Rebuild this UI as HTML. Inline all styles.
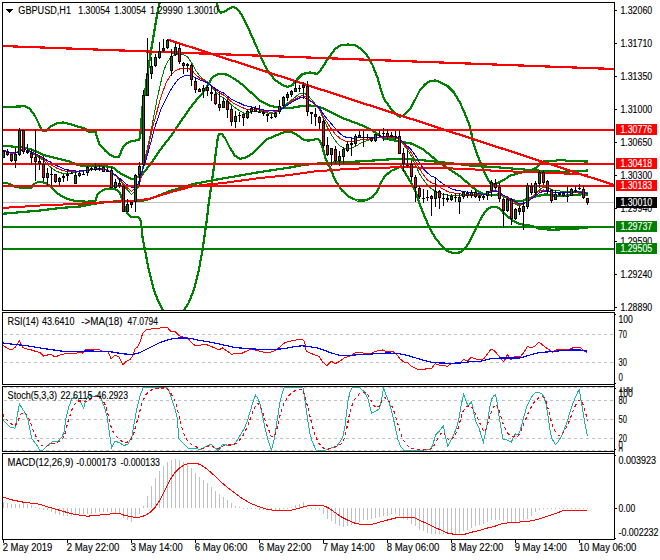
<!DOCTYPE html><html><head><meta charset="utf-8"><title>GBPUSD,H1</title>
<style>html,body{margin:0;padding:0;background:#fff;overflow:hidden}svg{display:block}text{font-family:"Liberation Sans", sans-serif;white-space:pre}</style></head><body>
<svg width="660" height="560" viewBox="0 0 660 560">
<rect width="660" height="560" fill="#fff"/>
<defs><clipPath id="cm"><rect x="3" y="3" width="611" height="307"/></clipPath>
<clipPath id="c1"><rect x="3" y="313" width="611" height="71"/></clipPath>
<clipPath id="c2"><rect x="3" y="387" width="611" height="64"/></clipPath>
<clipPath id="c3"><rect x="3" y="454" width="611" height="85"/></clipPath></defs>
<g clip-path="url(#cm)" shape-rendering="crispEdges">
<line x1="3" y1="202.5" x2="614" y2="202.5" stroke="#c0c0c0" stroke-width="1" />
<rect x="3" y="226" width="611" height="2" fill="#008000" />
<rect x="3" y="248" width="611" height="2" fill="#008000" />
<polyline points="2.0,107.0 20.0,106.5 25.0,106.0 30.0,109.0 35.0,116.0 39.0,124.0 41.3,129.0 43.0,131.0 46.0,131.0 48.0,129.0 52.0,125.5 57.0,123.3 63.0,122.5 70.0,124.0 80.0,127.2 85.8,128.8 87.3,131.4 95.6,131.8 97.1,137.4 99.4,144.2 105.5,151.0 110.0,154.8 114.5,156.8 119.0,156.8 120.6,153.3 122.9,147.3 126.7,143.5 131.2,141.2 138.8,140.0 140.3,137.4 140.5,131.4 141.0,123.8 141.8,116.2 142.8,103.0 144.8,94.5 146.7,78.8 149.7,59.0 151.7,47.0 154.6,29.5 157.6,11.8 159.5,3.0" fill="none" stroke="#008000" stroke-width="2.2" stroke-linejoin="round"/>
<polyline points="216.7,3.0 218.6,9.8 220.6,12.8 224.5,11.8 228.5,8.9 233.4,6.9 237.3,8.9 242.3,15.8 247.2,25.6 252.0,36.4 257.5,49.0 261.0,57.5 265.0,66.0 269.0,72.5 275.0,80.0 282.5,85.0 287.5,87.0 292.5,85.0 297.5,79.0 302.5,74.0 310.0,72.5 317.5,74.0 322.5,67.5 327.5,59.0 330.0,56.0 335.0,49.0 340.0,45.5 347.5,44.5 355.0,45.0 361.0,49.0 367.5,56.0 372.5,65.0 377.5,77.5 381.0,90.0 384.0,99.0 390.0,107.5 396.0,114.5 400.0,117.0 405.0,114.5 410.0,109.0 415.0,100.0 420.0,90.0 425.0,84.5 430.0,81.0 435.0,80.5 440.0,82.0 447.5,86.0 454.0,92.5 460.0,102.5 465.0,114.0 469.0,124.0 471.0,131.0 472.5,140.0 476.7,153.3 480.8,163.3 485.0,173.3 488.3,180.0 491.7,185.0 495.0,184.2 500.0,181.7 505.0,179.2 510.0,175.8 515.0,174.2 521.7,172.5 528.3,170.8 534.0,169.2 537.5,166.7 540.0,163.3 543.0,161.7 548.0,160.8 555.0,160.8 561.0,159.7 566.7,160.8 580.0,161.3 588.0,161.5" fill="none" stroke="#008000" stroke-width="2.2" stroke-linejoin="round"/>
<polyline points="3.3,145.8 10.0,146.3 16.7,147.0 23.0,147.5 30.0,149.0 36.7,151.7 43.0,155.0 50.0,156.7 56.7,158.3 63.0,160.0 70.0,161.7 73.0,163.0 78.0,165.3 90.0,166.0 105.0,166.3 112.0,167.0 115.0,169.0 119.0,172.5 126.7,176.7 131.0,179.0 135.0,178.5 141.7,175.0 150.0,165.0 160.0,150.0 171.7,135.0 175.0,130.0 190.0,108.0 195.0,101.7 203.0,92.5 206.0,88.0 212.7,76.8 218.6,73.9 226.5,74.5 234.4,78.8 242.3,84.7 250.0,91.6 255.0,96.0 260.0,100.8 268.0,105.0 275.0,107.0 280.0,107.5 285.0,108.0 291.7,108.0 297.0,106.7 303.0,106.0 310.0,105.5 316.7,106.3 323.0,108.3 330.0,111.7 336.7,115.0 343.0,118.3 350.0,120.8 356.7,123.3 363.0,125.8 368.0,128.0 372.0,130.0 376.0,133.0 380.0,136.0 384.0,138.5 390.0,139.5 396.7,141.0 402.5,142.0 412.5,143.8 422.5,148.8 430.0,155.0 437.5,161.2 445.0,166.2 452.5,171.2 460.0,176.2 470.0,185.0 473.0,187.5 476.7,190.8 481.7,193.3 488.3,194.7 495.0,195.0 500.0,194.2 503.0,195.8 508.0,198.3 513.0,200.3 518.0,201.3 523.0,200.8 528.0,198.5 533.8,197.0 538.0,196.0 542.0,195.0 545.5,194.4 548.6,195.0 552.0,195.5 562.4,196.0 573.0,195.0 583.6,194.2 588.0,195.5" fill="none" stroke="#008000" stroke-width="2.2" stroke-linejoin="round"/>
<polyline points="3.3,183.3 7.5,183.3 11.0,184.7 16.0,187.0 23.0,188.0 31.0,188.0 32.5,186.7 34.0,184.0 38.0,182.0 42.5,182.0 46.7,183.7 50.0,185.8 53.0,189.0 57.5,193.3 63.0,197.0 70.0,199.7 75.0,200.8 80.0,201.3 87.0,201.7 92.5,201.3 95.5,200.6 96.8,196.2 98.6,193.0 101.8,191.0 105.5,189.0 110.5,188.5 115.5,189.4 119.2,191.9 121.0,195.6 122.5,201.7 126.7,212.5 131.0,216.7 139.0,217.5 141.0,221.7 142.5,237.5 145.0,250.0 148.8,270.0 153.8,290.0 158.8,302.5 163.0,310.0" fill="none" stroke="#008000" stroke-width="2.2" stroke-linejoin="round"/>
<polyline points="184.2,310.0 188.8,302.5 193.8,290.0 198.8,270.0 202.5,250.0 205.0,232.5 206.8,220.0 208.3,206.7 211.7,183.0 214.0,166.7 215.8,153.0 217.5,140.0 219.0,133.7 221.7,134.0 225.0,138.0 230.0,148.0 235.0,155.8 240.0,158.7 245.0,158.0 251.7,154.0 256.7,149.0 263.0,143.0 267.5,139.0 273.0,136.7 280.0,133.8 285.0,131.9 291.9,131.9 296.2,134.4 300.6,137.5 303.8,140.0 308.8,140.6 313.8,139.8 317.5,138.8 320.0,141.2 321.9,144.8 325.0,156.7 328.0,165.0 330.0,167.5 335.0,180.0 342.5,191.0 350.0,197.5 357.5,200.5 365.0,200.5 372.5,197.0 377.5,191.0 381.0,182.5 385.0,176.0 391.0,171.0 397.5,168.0 401.0,166.0 405.0,172.5 410.0,181.0 415.0,190.0 420.0,205.0 425.0,217.5 430.0,228.8 435.0,237.5 441.0,245.0 447.5,251.0 452.5,253.0 460.0,252.5 466.0,247.5 471.0,238.8 476.0,228.5 480.0,220.0 483.8,213.8 487.0,209.5 491.7,206.7 496.7,207.0 500.0,209.0 503.0,212.5 508.0,216.7 513.0,220.8 518.0,223.3 525.0,225.0 531.7,225.8 536.7,227.5 540.0,229.0 553.0,229.7 570.0,229.0 580.0,228.3 588.0,228.0" fill="none" stroke="#008000" stroke-width="2.2" stroke-linejoin="round"/>
<polyline points="2.0,213.8 40.0,210.5 60.0,208.0 80.0,206.5 90.0,204.5 100.0,202.8 110.0,201.7 143.0,200.8 151.7,198.3 160.0,195.0 168.0,191.7 176.7,189.0 185.0,186.7 193.0,184.0 201.7,182.5 210.0,180.8 220.0,179.0 240.0,175.5 260.0,172.0 280.0,169.0 290.0,167.5 303.0,165.0 320.0,163.3 345.0,162.0 363.0,161.3 380.0,160.0 400.0,158.7 420.0,160.0 440.0,162.0 470.0,165.5 500.0,167.5 530.0,170.0 550.0,171.3 563.0,171.7 580.0,171.0 588.0,170.5" fill="none" stroke="#008000" stroke-width="2.2" stroke-linejoin="round"/>
<polyline points="2.0,208.0 40.0,205.5 80.0,203.8 110.0,201.8 135.0,200.8 143.0,199.7 150.0,198.5 160.0,195.5 176.7,190.5 193.0,186.3 210.0,184.2 223.0,183.0 260.0,178.0 290.0,175.0 306.7,172.5 315.0,171.4 327.5,170.5 340.0,169.5 352.5,168.9 365.0,168.2 377.5,167.9 390.0,167.5 410.0,167.4 430.0,167.7 450.0,168.4 472.0,169.3 495.0,170.8 520.0,171.8 545.0,172.7 576.0,174.0 588.0,175.0" fill="none" stroke="#ff0000" stroke-width="2.0" stroke-linejoin="round"/>
<polyline points="3.5,151.0 11.5,153.5 15.5,153.5 23.5,148.5 30.0,152.0 38.0,157.0 43.8,160.6 47.5,164.4 51.5,168.0 55.5,170.6 59.5,172.5 63.5,173.5 67.5,173.5 71.5,173.0 80.0,171.5 90.0,170.0 100.0,168.0 108.0,170.5 115.5,175.6 120.5,181.2 125.5,188.0 129.2,191.9 131.5,194.4 134.2,191.9 138.0,187.5 140.5,180.0 142.8,167.0 146.6,151.8 150.3,135.0 154.0,115.3 156.9,99.8 159.4,88.8 161.9,77.5 164.4,68.8 167.5,61.9 171.2,56.9 175.5,54.4 179.5,53.8 183.5,54.8 187.5,56.9 191.5,62.5 195.5,70.0 199.5,75.6 203.5,79.4 207.5,81.9 211.5,86.9 215.5,91.9 219.5,95.6 223.5,98.0 227.5,101.2 231.5,105.0 235.5,108.0 239.5,110.6 243.5,113.0 247.5,113.0 251.5,111.9 255.5,111.2 259.5,111.2 263.5,112.2 267.5,113.0 271.5,113.8 275.5,112.5 279.5,111.0 283.5,107.5 287.5,103.0 291.5,100.0 295.5,96.9 299.5,93.8 303.5,93.0 307.5,95.0 311.5,99.4 315.5,104.4 319.5,110.0 323.5,118.8 327.5,127.5 331.5,135.0 335.5,141.0 339.5,145.5 343.8,148.2 347.5,148.9 351.5,148.2 355.5,146.4 359.5,143.9 363.5,142.0 367.5,140.5 371.5,139.2 375.5,138.2 379.5,137.6 383.5,137.6 387.5,138.2 391.5,138.5 395.5,138.3 399.5,138.8 403.5,144.4 407.5,150.0 411.5,156.2 415.5,165.0 419.5,173.8 423.5,180.0 427.5,185.0 431.5,188.8 435.5,191.2 439.5,193.5 443.8,194.4 448.8,195.2 460.0,196.0 480.0,195.5 487.5,193.5 491.5,190.5 495.5,190.0 499.5,192.5 503.5,197.0 507.5,198.5 511.5,202.0 515.5,204.5 519.5,205.5 523.5,204.0 527.4,201.8 531.7,198.6 535.9,193.3 539.0,190.0 542.3,188.0 545.5,187.5 548.6,188.2 551.8,189.6 556.0,190.7 562.4,191.2 570.0,191.5 577.0,191.0 588.0,193.0" fill="none" stroke="#008000" stroke-width="1" />
<polyline points="3.5,150.5 11.5,153.0 15.5,153.0 23.5,149.0 30.0,151.5 38.0,156.0 43.8,159.4 47.5,162.5 51.5,165.0 55.5,167.5 59.5,169.4 63.5,170.6 67.5,171.5 71.5,171.9 75.5,171.9 85.0,170.5 95.0,169.0 103.0,168.5 109.0,171.0 115.5,175.0 120.5,180.0 125.5,186.2 129.2,189.4 131.5,191.2 134.2,188.8 138.0,185.0 140.5,180.0 144.3,164.0 148.0,148.7 152.6,127.5 157.2,110.8 160.0,99.8 163.0,91.2 166.2,82.5 170.0,76.2 175.5,70.6 179.5,69.0 183.5,68.5 187.5,68.0 191.5,70.0 195.5,74.4 199.5,78.0 203.5,80.0 207.5,82.5 211.5,86.2 215.5,90.0 219.5,93.0 223.5,95.0 227.5,98.0 231.5,101.9 235.5,104.4 239.5,106.2 243.5,108.0 247.5,109.4 251.5,109.4 255.5,109.8 259.5,110.0 263.5,111.0 267.5,111.9 271.5,112.2 275.5,111.6 279.5,111.0 283.5,108.0 287.5,104.4 291.5,101.2 295.5,98.8 299.5,96.2 303.5,95.6 307.5,97.5 311.5,101.2 315.5,105.0 319.5,109.4 323.5,116.9 327.5,123.0 331.5,129.4 335.5,134.4 339.5,138.0 343.5,140.5 347.5,141.8 351.5,141.4 356.2,140.8 360.0,140.0 363.5,139.8 367.5,139.2 371.5,138.5 375.5,137.6 380.0,137.5 395.5,137.3 399.5,138.8 403.5,143.8 407.5,148.0 411.5,153.0 415.5,160.6 419.5,168.8 423.5,175.0 427.5,180.0 431.5,182.8 435.5,183.8 439.5,186.9 443.5,189.4 447.5,191.5 451.5,192.6 455.5,193.3 461.2,194.0 467.5,194.8 473.8,195.0 480.0,194.6 487.5,193.8 491.5,191.2 495.5,190.6 499.5,192.2 503.5,196.2 507.5,197.5 511.5,200.6 515.5,203.0 519.5,204.4 523.5,203.8 527.5,201.0 531.5,197.5 535.5,194.0 539.5,191.0 543.5,190.0 547.5,191.0 551.5,192.2 555.5,192.8 566.0,193.0 577.0,192.0 588.0,194.0" fill="none" stroke="#ff0000" stroke-width="1" />
<polyline points="3.5,150.0 7.5,151.5 11.5,152.8 15.5,153.0 19.5,151.2 23.5,149.4 30.0,151.0 38.0,155.0 43.8,158.0 47.5,160.6 51.5,162.5 55.5,165.0 59.5,166.9 63.5,168.8 67.5,169.8 71.5,170.6 75.5,171.0 79.5,171.0 85.0,170.5 90.0,170.0 95.0,169.5 100.0,169.0 105.0,169.5 109.0,171.0 113.0,173.0 118.0,176.9 123.0,181.2 126.8,184.4 131.5,187.2 135.0,187.0 138.0,183.8 141.8,172.5 145.8,160.9 150.3,144.2 155.7,124.5 161.0,109.3 165.6,99.8 170.0,91.2 173.8,85.0 177.5,80.0 181.2,77.2 185.0,75.6 188.8,75.0 192.5,76.2 196.2,78.0 200.0,80.0 203.8,81.2 207.5,83.0 211.5,85.6 215.5,88.8 219.5,91.2 223.5,93.0 227.5,96.2 231.5,99.4 235.5,101.2 239.5,103.0 243.5,105.0 247.5,106.2 251.5,107.2 255.5,108.0 259.5,108.8 263.5,110.0 267.5,110.6 271.5,111.0 275.5,110.6 279.5,110.0 283.5,108.0 287.5,105.0 291.5,102.5 295.5,100.0 299.5,98.0 303.5,97.5 307.5,98.8 311.5,101.9 315.5,104.4 319.5,108.0 323.5,114.4 327.5,119.5 331.5,123.9 335.5,128.9 339.5,133.2 343.5,136.4 347.5,137.6 351.5,138.0 356.0,138.0 363.5,137.6 367.5,138.0 371.5,137.6 375.5,137.4 379.5,137.0 383.5,136.8 387.5,136.8 391.5,136.5 395.5,136.7 399.5,138.8 403.5,142.5 407.5,146.2 411.5,150.0 415.5,155.6 419.5,162.5 423.5,168.8 427.5,173.0 431.5,176.2 435.5,177.5 439.5,181.2 443.5,184.4 447.5,186.9 451.5,188.8 455.5,190.0 460.0,190.8 467.5,192.2 473.8,193.0 480.0,193.8 483.5,194.4 487.5,193.8 491.5,191.9 495.5,191.0 499.5,192.2 503.5,195.6 507.5,196.9 511.5,199.4 515.5,201.9 519.5,203.5 523.5,203.8 527.5,201.9 531.5,198.8 535.5,195.6 539.5,192.8 543.5,191.2 547.5,191.5 551.5,192.2 555.7,192.3 566.4,192.9 577.0,191.6 588.0,193.4" fill="none" stroke="#0000ff" stroke-width="1" />
<rect x="3" y="129" width="611" height="2" fill="#ff0000" />
<rect x="3" y="163" width="611" height="2" fill="#ff0000" />
<rect x="3" y="185" width="611" height="2" fill="#ff0000" />
<line x1="2" y1="46" x2="614" y2="69" stroke="#ff0000" stroke-width="2.2" />
<line x1="167.5" y1="39.5" x2="614" y2="185" stroke="#ff0000" stroke-width="2.2" />
<rect x="3" y="150" width="1" height="8" fill="#000" />
<rect x="2" y="151" width="3" height="7" fill="#000" />
<rect x="3" y="152" width="1" height="5" fill="#008000" />
<rect x="7" y="149" width="1" height="7" fill="#000" />
<rect x="6" y="152" width="3" height="3" fill="#000" />
<rect x="7" y="153" width="1" height="1" fill="#ff0000" />
<rect x="11" y="154" width="1" height="8" fill="#000" />
<rect x="10" y="154" width="3" height="7" fill="#000" />
<rect x="11" y="155" width="1" height="5" fill="#ff0000" />
<rect x="15" y="148" width="1" height="20" fill="#000" />
<rect x="14" y="154" width="3" height="7" fill="#000" />
<rect x="15" y="155" width="1" height="5" fill="#008000" />
<rect x="19" y="128" width="1" height="28" fill="#000" />
<rect x="18" y="130" width="3" height="25" fill="#000" />
<rect x="19" y="131" width="1" height="23" fill="#008000" />
<rect x="23" y="130" width="1" height="24" fill="#000" />
<rect x="22" y="130" width="3" height="22" fill="#000" />
<rect x="23" y="131" width="1" height="20" fill="#ff0000" />
<rect x="27" y="144" width="1" height="10" fill="#000" />
<rect x="26" y="151" width="3" height="2" fill="#000" />
<rect x="31" y="149" width="1" height="16" fill="#000" />
<rect x="30" y="153" width="3" height="5" fill="#000" />
<rect x="31" y="154" width="1" height="3" fill="#ff0000" />
<rect x="35" y="129" width="1" height="52" fill="#000" />
<rect x="34" y="157" width="3" height="5" fill="#000" />
<rect x="35" y="158" width="1" height="3" fill="#ff0000" />
<rect x="39" y="156" width="1" height="14" fill="#000" />
<rect x="38" y="161" width="3" height="3" fill="#000" />
<rect x="39" y="162" width="1" height="1" fill="#ff0000" />
<rect x="43" y="156" width="1" height="25" fill="#000" />
<rect x="42" y="164" width="3" height="14" fill="#000" />
<rect x="43" y="165" width="1" height="12" fill="#ff0000" />
<rect x="47" y="168" width="1" height="18" fill="#000" />
<rect x="46" y="173" width="3" height="5" fill="#000" />
<rect x="47" y="174" width="1" height="3" fill="#008000" />
<rect x="51" y="168" width="1" height="18" fill="#000" />
<rect x="50" y="174" width="3" height="1" fill="#000" />
<rect x="55" y="174" width="1" height="9" fill="#000" />
<rect x="54" y="174" width="3" height="8" fill="#000" />
<rect x="55" y="175" width="1" height="6" fill="#ff0000" />
<rect x="59" y="177" width="1" height="9" fill="#000" />
<rect x="58" y="178" width="3" height="4" fill="#000" />
<rect x="59" y="179" width="1" height="2" fill="#008000" />
<rect x="63" y="174" width="1" height="8" fill="#000" />
<rect x="62" y="176" width="3" height="2" fill="#000" />
<rect x="67" y="169" width="1" height="12" fill="#000" />
<rect x="66" y="174" width="3" height="2" fill="#000" />
<rect x="71" y="171" width="1" height="3" fill="#000" />
<rect x="70" y="173" width="3" height="1" fill="#000" />
<rect x="75" y="172" width="1" height="12" fill="#000" />
<rect x="74" y="175" width="3" height="9" fill="#000" />
<rect x="75" y="176" width="1" height="7" fill="#008000" />
<rect x="79" y="172" width="1" height="5" fill="#000" />
<rect x="78" y="173" width="3" height="3" fill="#000" />
<rect x="79" y="174" width="1" height="1" fill="#008000" />
<rect x="83" y="171" width="1" height="3" fill="#000" />
<rect x="82" y="174" width="3" height="1" fill="#000" />
<rect x="87" y="166" width="1" height="10" fill="#000" />
<rect x="86" y="167" width="3" height="6" fill="#000" />
<rect x="87" y="168" width="1" height="4" fill="#008000" />
<rect x="91" y="167" width="1" height="4" fill="#000" />
<rect x="90" y="168" width="3" height="2" fill="#000" />
<rect x="95" y="163" width="1" height="8" fill="#000" />
<rect x="94" y="167" width="3" height="3" fill="#000" />
<rect x="95" y="168" width="1" height="1" fill="#008000" />
<rect x="99" y="165" width="1" height="6" fill="#000" />
<rect x="98" y="168" width="3" height="1" fill="#000" />
<rect x="103" y="166" width="1" height="6" fill="#000" />
<rect x="102" y="167" width="3" height="5" fill="#000" />
<rect x="103" y="168" width="1" height="3" fill="#ff0000" />
<rect x="107" y="168" width="1" height="4" fill="#000" />
<rect x="106" y="171" width="3" height="1" fill="#000" />
<rect x="111" y="167" width="1" height="21" fill="#000" />
<rect x="110" y="170" width="3" height="18" fill="#000" />
<rect x="111" y="171" width="1" height="16" fill="#ff0000" />
<rect x="115" y="179" width="1" height="10" fill="#000" />
<rect x="114" y="182" width="3" height="6" fill="#000" />
<rect x="115" y="183" width="1" height="4" fill="#008000" />
<rect x="119" y="178" width="1" height="10" fill="#000" />
<rect x="118" y="183" width="3" height="3" fill="#000" />
<rect x="119" y="184" width="1" height="1" fill="#ff0000" />
<rect x="123" y="185" width="1" height="27" fill="#000" />
<rect x="122" y="186" width="3" height="26" fill="#000" />
<rect x="123" y="187" width="1" height="24" fill="#ff0000" />
<rect x="127" y="199" width="1" height="13" fill="#000" />
<rect x="126" y="204" width="3" height="8" fill="#000" />
<rect x="127" y="205" width="1" height="6" fill="#008000" />
<rect x="131" y="202" width="1" height="6" fill="#000" />
<rect x="130" y="202" width="3" height="3" fill="#000" />
<rect x="131" y="203" width="1" height="1" fill="#008000" />
<rect x="135" y="174" width="1" height="38" fill="#000" />
<rect x="134" y="175" width="3" height="27" fill="#000" />
<rect x="135" y="176" width="1" height="25" fill="#008000" />
<rect x="139" y="162" width="1" height="24" fill="#000" />
<rect x="138" y="166" width="3" height="9" fill="#000" />
<rect x="139" y="167" width="1" height="7" fill="#008000" />
<rect x="143" y="90" width="1" height="76" fill="#000" />
<rect x="142" y="95" width="3" height="70" fill="#000" />
<rect x="143" y="96" width="1" height="68" fill="#008000" />
<rect x="147" y="38" width="1" height="58" fill="#000" />
<rect x="146" y="74" width="3" height="22" fill="#000" />
<rect x="147" y="75" width="1" height="20" fill="#008000" />
<rect x="151" y="57" width="1" height="22" fill="#000" />
<rect x="150" y="66" width="3" height="8" fill="#000" />
<rect x="151" y="67" width="1" height="6" fill="#008000" />
<rect x="155" y="54" width="1" height="13" fill="#000" />
<rect x="154" y="57" width="3" height="9" fill="#000" />
<rect x="155" y="58" width="1" height="7" fill="#008000" />
<rect x="159" y="42" width="1" height="17" fill="#000" />
<rect x="158" y="51" width="3" height="7" fill="#000" />
<rect x="159" y="52" width="1" height="5" fill="#008000" />
<rect x="163" y="39" width="1" height="13" fill="#000" />
<rect x="162" y="48" width="3" height="3" fill="#000" />
<rect x="163" y="49" width="1" height="1" fill="#008000" />
<rect x="167" y="39" width="1" height="10" fill="#000" />
<rect x="166" y="40" width="3" height="8" fill="#000" />
<rect x="167" y="41" width="1" height="6" fill="#008000" />
<rect x="171" y="49" width="1" height="27" fill="#000" />
<rect x="170" y="56" width="3" height="15" fill="#000" />
<rect x="171" y="57" width="1" height="13" fill="#008000" />
<rect x="175" y="43" width="1" height="13" fill="#000" />
<rect x="174" y="47" width="3" height="8" fill="#000" />
<rect x="175" y="48" width="1" height="6" fill="#008000" />
<rect x="179" y="44" width="1" height="20" fill="#000" />
<rect x="178" y="48" width="3" height="14" fill="#000" />
<rect x="179" y="49" width="1" height="12" fill="#ff0000" />
<rect x="183" y="62" width="1" height="12" fill="#000" />
<rect x="182" y="63" width="3" height="3" fill="#000" />
<rect x="183" y="64" width="1" height="1" fill="#ff0000" />
<rect x="187" y="63" width="1" height="9" fill="#000" />
<rect x="186" y="64" width="3" height="2" fill="#000" />
<rect x="191" y="64" width="1" height="22" fill="#000" />
<rect x="190" y="65" width="3" height="15" fill="#000" />
<rect x="191" y="66" width="1" height="13" fill="#ff0000" />
<rect x="195" y="78" width="1" height="15" fill="#000" />
<rect x="194" y="81" width="3" height="9" fill="#000" />
<rect x="195" y="82" width="1" height="7" fill="#ff0000" />
<rect x="199" y="88" width="1" height="4" fill="#000" />
<rect x="198" y="89" width="3" height="3" fill="#000" />
<rect x="199" y="90" width="1" height="1" fill="#ff0000" />
<rect x="203" y="85" width="1" height="13" fill="#000" />
<rect x="202" y="88" width="3" height="3" fill="#000" />
<rect x="203" y="89" width="1" height="1" fill="#008000" />
<rect x="207" y="85" width="1" height="11" fill="#000" />
<rect x="206" y="87" width="3" height="4" fill="#000" />
<rect x="207" y="88" width="1" height="2" fill="#ff0000" />
<rect x="211" y="86" width="1" height="15" fill="#000" />
<rect x="210" y="92" width="3" height="2" fill="#000" />
<rect x="215" y="89" width="1" height="16" fill="#000" />
<rect x="214" y="94" width="3" height="10" fill="#000" />
<rect x="215" y="95" width="1" height="8" fill="#ff0000" />
<rect x="219" y="92" width="1" height="19" fill="#000" />
<rect x="218" y="104" width="3" height="4" fill="#000" />
<rect x="219" y="105" width="1" height="2" fill="#ff0000" />
<rect x="223" y="98" width="1" height="10" fill="#000" />
<rect x="222" y="101" width="3" height="7" fill="#000" />
<rect x="223" y="102" width="1" height="5" fill="#008000" />
<rect x="227" y="99" width="1" height="19" fill="#000" />
<rect x="226" y="101" width="3" height="9" fill="#000" />
<rect x="227" y="102" width="1" height="7" fill="#ff0000" />
<rect x="231" y="106" width="1" height="20" fill="#000" />
<rect x="230" y="109" width="3" height="13" fill="#000" />
<rect x="231" y="110" width="1" height="11" fill="#ff0000" />
<rect x="235" y="111" width="1" height="17" fill="#000" />
<rect x="234" y="116" width="3" height="6" fill="#000" />
<rect x="235" y="117" width="1" height="4" fill="#008000" />
<rect x="239" y="112" width="1" height="10" fill="#000" />
<rect x="238" y="115" width="3" height="1" fill="#000" />
<rect x="243" y="114" width="1" height="12" fill="#000" />
<rect x="242" y="114" width="3" height="4" fill="#000" />
<rect x="243" y="115" width="1" height="2" fill="#ff0000" />
<rect x="247" y="109" width="1" height="10" fill="#000" />
<rect x="246" y="111" width="3" height="7" fill="#000" />
<rect x="247" y="112" width="1" height="5" fill="#008000" />
<rect x="251" y="106" width="1" height="8" fill="#000" />
<rect x="250" y="108" width="3" height="4" fill="#000" />
<rect x="251" y="109" width="1" height="2" fill="#008000" />
<rect x="255" y="106" width="1" height="6" fill="#000" />
<rect x="254" y="108" width="3" height="4" fill="#000" />
<rect x="255" y="109" width="1" height="2" fill="#ff0000" />
<rect x="259" y="105" width="1" height="7" fill="#000" />
<rect x="258" y="112" width="3" height="1" fill="#000" />
<rect x="263" y="111" width="1" height="5" fill="#000" />
<rect x="262" y="112" width="3" height="2" fill="#000" />
<rect x="267" y="114" width="1" height="8" fill="#000" />
<rect x="266" y="114" width="3" height="2" fill="#000" />
<rect x="271" y="114" width="1" height="5" fill="#000" />
<rect x="270" y="117" width="3" height="1" fill="#000" />
<rect x="275" y="112" width="1" height="6" fill="#000" />
<rect x="274" y="113" width="3" height="4" fill="#000" />
<rect x="275" y="114" width="1" height="2" fill="#008000" />
<rect x="279" y="100" width="1" height="14" fill="#000" />
<rect x="278" y="106" width="3" height="6" fill="#000" />
<rect x="279" y="107" width="1" height="4" fill="#008000" />
<rect x="283" y="96" width="1" height="11" fill="#000" />
<rect x="282" y="97" width="3" height="9" fill="#000" />
<rect x="283" y="98" width="1" height="7" fill="#008000" />
<rect x="287" y="92" width="1" height="9" fill="#000" />
<rect x="286" y="94" width="3" height="4" fill="#000" />
<rect x="287" y="95" width="1" height="2" fill="#008000" />
<rect x="291" y="90" width="1" height="7" fill="#000" />
<rect x="290" y="91" width="3" height="4" fill="#000" />
<rect x="291" y="92" width="1" height="2" fill="#008000" />
<rect x="295" y="80" width="1" height="12" fill="#000" />
<rect x="294" y="88" width="3" height="4" fill="#000" />
<rect x="295" y="89" width="1" height="2" fill="#008000" />
<rect x="299" y="85" width="1" height="7" fill="#000" />
<rect x="298" y="88" width="3" height="1" fill="#000" />
<rect x="303" y="82" width="1" height="17" fill="#000" />
<rect x="302" y="85" width="3" height="3" fill="#000" />
<rect x="303" y="86" width="1" height="1" fill="#008000" />
<rect x="307" y="81" width="1" height="35" fill="#000" />
<rect x="306" y="86" width="3" height="26" fill="#000" />
<rect x="307" y="87" width="1" height="24" fill="#ff0000" />
<rect x="311" y="112" width="1" height="12" fill="#000" />
<rect x="310" y="112" width="3" height="2" fill="#000" />
<rect x="315" y="108" width="1" height="18" fill="#000" />
<rect x="314" y="114" width="3" height="3" fill="#000" />
<rect x="315" y="115" width="1" height="1" fill="#ff0000" />
<rect x="319" y="116" width="1" height="13" fill="#000" />
<rect x="318" y="117" width="3" height="6" fill="#000" />
<rect x="319" y="118" width="1" height="4" fill="#ff0000" />
<rect x="323" y="119" width="1" height="29" fill="#000" />
<rect x="322" y="121" width="3" height="25" fill="#000" />
<rect x="323" y="122" width="1" height="23" fill="#ff0000" />
<rect x="327" y="137" width="1" height="19" fill="#000" />
<rect x="326" y="145" width="3" height="10" fill="#000" />
<rect x="327" y="146" width="1" height="8" fill="#ff0000" />
<rect x="331" y="148" width="1" height="18" fill="#000" />
<rect x="330" y="148" width="3" height="7" fill="#000" />
<rect x="331" y="149" width="1" height="5" fill="#008000" />
<rect x="335" y="146" width="1" height="18" fill="#000" />
<rect x="334" y="149" width="3" height="12" fill="#000" />
<rect x="335" y="150" width="1" height="10" fill="#ff0000" />
<rect x="339" y="151" width="1" height="15" fill="#000" />
<rect x="338" y="156" width="3" height="5" fill="#000" />
<rect x="339" y="157" width="1" height="3" fill="#008000" />
<rect x="343" y="147" width="1" height="17" fill="#000" />
<rect x="342" y="149" width="3" height="8" fill="#000" />
<rect x="343" y="150" width="1" height="6" fill="#008000" />
<rect x="347" y="141" width="1" height="11" fill="#000" />
<rect x="346" y="144" width="3" height="7" fill="#000" />
<rect x="347" y="145" width="1" height="5" fill="#008000" />
<rect x="351" y="138" width="1" height="18" fill="#000" />
<rect x="350" y="143" width="3" height="2" fill="#000" />
<rect x="355" y="134" width="1" height="12" fill="#000" />
<rect x="354" y="136" width="3" height="8" fill="#000" />
<rect x="355" y="137" width="1" height="6" fill="#008000" />
<rect x="359" y="131" width="1" height="7" fill="#000" />
<rect x="358" y="135" width="3" height="3" fill="#000" />
<rect x="359" y="136" width="1" height="1" fill="#008000" />
<rect x="363" y="131" width="1" height="16" fill="#000" />
<rect x="362" y="137" width="3" height="1" fill="#000" />
<rect x="367" y="134" width="1" height="5" fill="#000" />
<rect x="366" y="137" width="3" height="1" fill="#000" />
<rect x="371" y="137" width="1" height="5" fill="#000" />
<rect x="370" y="138" width="3" height="3" fill="#000" />
<rect x="371" y="139" width="1" height="1" fill="#ff0000" />
<rect x="375" y="134" width="1" height="8" fill="#000" />
<rect x="374" y="134" width="3" height="7" fill="#000" />
<rect x="375" y="135" width="1" height="5" fill="#008000" />
<rect x="379" y="130" width="1" height="7" fill="#000" />
<rect x="378" y="135" width="3" height="1" fill="#000" />
<rect x="383" y="128" width="1" height="13" fill="#000" />
<rect x="382" y="133" width="3" height="1" fill="#000" />
<rect x="387" y="129" width="1" height="11" fill="#000" />
<rect x="386" y="133" width="3" height="4" fill="#000" />
<rect x="387" y="134" width="1" height="2" fill="#ff0000" />
<rect x="391" y="132" width="1" height="6" fill="#000" />
<rect x="390" y="135" width="3" height="2" fill="#000" />
<rect x="395" y="131" width="1" height="9" fill="#000" />
<rect x="394" y="136" width="3" height="1" fill="#000" />
<rect x="399" y="130" width="1" height="24" fill="#000" />
<rect x="398" y="136" width="3" height="18" fill="#000" />
<rect x="399" y="137" width="1" height="16" fill="#ff0000" />
<rect x="403" y="148" width="1" height="24" fill="#000" />
<rect x="402" y="153" width="3" height="11" fill="#000" />
<rect x="403" y="154" width="1" height="9" fill="#ff0000" />
<rect x="407" y="150" width="1" height="18" fill="#000" />
<rect x="406" y="165" width="3" height="1" fill="#000" />
<rect x="411" y="161" width="1" height="20" fill="#000" />
<rect x="410" y="164" width="3" height="13" fill="#000" />
<rect x="411" y="165" width="1" height="11" fill="#ff0000" />
<rect x="415" y="175" width="1" height="27" fill="#000" />
<rect x="414" y="177" width="3" height="11" fill="#000" />
<rect x="415" y="178" width="1" height="9" fill="#ff0000" />
<rect x="419" y="186" width="1" height="13" fill="#000" />
<rect x="418" y="188" width="3" height="9" fill="#000" />
<rect x="419" y="189" width="1" height="7" fill="#ff0000" />
<rect x="423" y="189" width="1" height="14" fill="#000" />
<rect x="422" y="198" width="3" height="1" fill="#000" />
<rect x="427" y="190" width="1" height="11" fill="#000" />
<rect x="426" y="197" width="3" height="1" fill="#000" />
<rect x="431" y="195" width="1" height="21" fill="#000" />
<rect x="430" y="196" width="3" height="3" fill="#000" />
<rect x="431" y="197" width="1" height="1" fill="#ff0000" />
<rect x="435" y="177" width="1" height="30" fill="#000" />
<rect x="434" y="191" width="3" height="8" fill="#000" />
<rect x="435" y="192" width="1" height="6" fill="#008000" />
<rect x="439" y="190" width="1" height="19" fill="#000" />
<rect x="438" y="191" width="3" height="7" fill="#000" />
<rect x="439" y="192" width="1" height="5" fill="#ff0000" />
<rect x="443" y="193" width="1" height="13" fill="#000" />
<rect x="442" y="198" width="3" height="1" fill="#000" />
<rect x="447" y="194" width="1" height="8" fill="#000" />
<rect x="446" y="198" width="3" height="2" fill="#000" />
<rect x="451" y="194" width="1" height="7" fill="#000" />
<rect x="450" y="196" width="3" height="4" fill="#000" />
<rect x="451" y="197" width="1" height="2" fill="#008000" />
<rect x="455" y="193" width="1" height="9" fill="#000" />
<rect x="454" y="197" width="3" height="1" fill="#000" />
<rect x="459" y="193" width="1" height="21" fill="#000" />
<rect x="458" y="197" width="3" height="5" fill="#000" />
<rect x="459" y="198" width="1" height="3" fill="#008000" />
<rect x="463" y="191" width="1" height="8" fill="#000" />
<rect x="462" y="192" width="3" height="5" fill="#000" />
<rect x="463" y="193" width="1" height="3" fill="#008000" />
<rect x="467" y="191" width="1" height="7" fill="#000" />
<rect x="466" y="193" width="3" height="3" fill="#000" />
<rect x="467" y="194" width="1" height="1" fill="#ff0000" />
<rect x="471" y="190" width="1" height="8" fill="#000" />
<rect x="470" y="192" width="3" height="4" fill="#000" />
<rect x="471" y="193" width="1" height="2" fill="#008000" />
<rect x="475" y="190" width="1" height="8" fill="#000" />
<rect x="474" y="192" width="3" height="5" fill="#000" />
<rect x="475" y="193" width="1" height="3" fill="#ff0000" />
<rect x="479" y="195" width="1" height="6" fill="#000" />
<rect x="478" y="196" width="3" height="2" fill="#000" />
<rect x="483" y="195" width="1" height="5" fill="#000" />
<rect x="482" y="196" width="3" height="2" fill="#000" />
<rect x="487" y="191" width="1" height="9" fill="#000" />
<rect x="486" y="191" width="3" height="5" fill="#000" />
<rect x="487" y="192" width="1" height="3" fill="#008000" />
<rect x="491" y="180" width="1" height="17" fill="#000" />
<rect x="490" y="182" width="3" height="9" fill="#000" />
<rect x="491" y="183" width="1" height="7" fill="#008000" />
<rect x="495" y="179" width="1" height="10" fill="#000" />
<rect x="494" y="183" width="3" height="5" fill="#000" />
<rect x="495" y="184" width="1" height="3" fill="#ff0000" />
<rect x="499" y="183" width="1" height="19" fill="#000" />
<rect x="498" y="187" width="3" height="12" fill="#000" />
<rect x="499" y="188" width="1" height="10" fill="#ff0000" />
<rect x="503" y="198" width="1" height="30" fill="#000" />
<rect x="502" y="199" width="3" height="12" fill="#000" />
<rect x="503" y="200" width="1" height="10" fill="#ff0000" />
<rect x="507" y="198" width="1" height="14" fill="#000" />
<rect x="506" y="199" width="3" height="12" fill="#000" />
<rect x="507" y="200" width="1" height="10" fill="#008000" />
<rect x="511" y="198" width="1" height="27" fill="#000" />
<rect x="510" y="199" width="3" height="20" fill="#000" />
<rect x="511" y="200" width="1" height="18" fill="#ff0000" />
<rect x="515" y="208" width="1" height="12" fill="#000" />
<rect x="514" y="209" width="3" height="10" fill="#000" />
<rect x="515" y="210" width="1" height="8" fill="#008000" />
<rect x="519" y="206" width="1" height="9" fill="#000" />
<rect x="518" y="208" width="3" height="4" fill="#000" />
<rect x="519" y="209" width="1" height="2" fill="#ff0000" />
<rect x="523" y="201" width="1" height="29" fill="#000" />
<rect x="522" y="206" width="3" height="6" fill="#000" />
<rect x="523" y="207" width="1" height="4" fill="#008000" />
<rect x="527" y="183" width="1" height="26" fill="#000" />
<rect x="526" y="185" width="3" height="22" fill="#000" />
<rect x="527" y="186" width="1" height="20" fill="#008000" />
<rect x="531" y="183" width="1" height="12" fill="#000" />
<rect x="530" y="186" width="3" height="7" fill="#000" />
<rect x="531" y="187" width="1" height="5" fill="#ff0000" />
<rect x="535" y="181" width="1" height="15" fill="#000" />
<rect x="534" y="183" width="3" height="10" fill="#000" />
<rect x="535" y="184" width="1" height="8" fill="#008000" />
<rect x="539" y="170" width="1" height="18" fill="#000" />
<rect x="538" y="172" width="3" height="12" fill="#000" />
<rect x="539" y="173" width="1" height="10" fill="#008000" />
<rect x="543" y="170" width="1" height="15" fill="#000" />
<rect x="542" y="172" width="3" height="11" fill="#000" />
<rect x="543" y="173" width="1" height="9" fill="#ff0000" />
<rect x="547" y="180" width="1" height="14" fill="#000" />
<rect x="546" y="181" width="3" height="10" fill="#000" />
<rect x="547" y="182" width="1" height="8" fill="#ff0000" />
<rect x="551" y="189" width="1" height="14" fill="#000" />
<rect x="550" y="190" width="3" height="11" fill="#000" />
<rect x="551" y="191" width="1" height="9" fill="#ff0000" />
<rect x="555" y="190" width="1" height="10" fill="#000" />
<rect x="554" y="194" width="3" height="6" fill="#000" />
<rect x="555" y="195" width="1" height="4" fill="#008000" />
<rect x="559" y="192" width="1" height="4" fill="#000" />
<rect x="558" y="193" width="3" height="2" fill="#000" />
<rect x="563" y="192" width="1" height="5" fill="#000" />
<rect x="562" y="193" width="3" height="3" fill="#000" />
<rect x="563" y="194" width="1" height="1" fill="#ff0000" />
<rect x="567" y="186" width="1" height="16" fill="#000" />
<rect x="566" y="196" width="3" height="1" fill="#000" />
<rect x="571" y="188" width="1" height="8" fill="#000" />
<rect x="570" y="189" width="3" height="7" fill="#000" />
<rect x="571" y="190" width="1" height="5" fill="#008000" />
<rect x="575" y="186" width="1" height="7" fill="#000" />
<rect x="574" y="190" width="3" height="1" fill="#000" />
<rect x="579" y="184" width="1" height="6" fill="#000" />
<rect x="578" y="188" width="3" height="1" fill="#000" />
<rect x="583" y="186" width="1" height="13" fill="#000" />
<rect x="582" y="189" width="3" height="9" fill="#000" />
<rect x="583" y="190" width="1" height="7" fill="#ff0000" />
<rect x="587" y="198" width="1" height="7" fill="#000" />
<rect x="586" y="198" width="3" height="5" fill="#000" />
<rect x="587" y="199" width="1" height="3" fill="#ff0000" />
</g>
<g shape-rendering="crispEdges"><rect x="6" y="9" width="7" height="1"/><rect x="7" y="10" width="5" height="1"/><rect x="8" y="11" width="3" height="1"/><rect x="9" y="12" width="1" height="1"/></g>
<text x="18.3" y="13.8" fill="#000" stroke="#000" stroke-width="0.12" font-size="10" text-anchor="start" textLength="52.7" lengthAdjust="spacingAndGlyphs">GBPUSD,H1</text>
<text x="78.3" y="13.8" fill="#000" stroke="#000" stroke-width="0.12" font-size="10" text-anchor="start" textLength="31.7" lengthAdjust="spacingAndGlyphs">1.30054</text>
<text x="114.3" y="13.8" fill="#000" stroke="#000" stroke-width="0.12" font-size="10" text-anchor="start" textLength="31.7" lengthAdjust="spacingAndGlyphs">1.30054</text>
<text x="150" y="13.8" fill="#000" stroke="#000" stroke-width="0.12" font-size="10" text-anchor="start" textLength="32.7" lengthAdjust="spacingAndGlyphs">1.29990</text>
<text x="186.7" y="13.8" fill="#000" stroke="#000" stroke-width="0.12" font-size="10" text-anchor="start" textLength="31.6" lengthAdjust="spacingAndGlyphs">1.30010</text>
<g clip-path="url(#c1)" shape-rendering="crispEdges">
<line x1="4" y1="334.5" x2="614" y2="334.5" stroke="#c0c0c0" stroke-width="1" stroke-dasharray="3 3"/>
<line x1="4" y1="362.5" x2="614" y2="362.5" stroke="#c0c0c0" stroke-width="1" stroke-dasharray="3 3"/>
<polyline points="3.0,345.0 6.2,347.5 11.2,350.0 15.0,347.5 19.5,340.5 22.5,347.5 26.2,348.8 30.0,349.5 35.0,351.2 40.0,352.5 43.8,356.2 47.5,355.0 51.2,354.5 55.0,357.0 60.0,355.0 65.0,353.8 70.0,353.0 75.0,353.8 80.0,352.0 82.5,353.0 86.2,349.5 90.0,350.0 96.2,349.2 100.0,350.0 103.8,352.0 107.5,351.2 111.2,358.8 115.0,355.0 118.8,357.0 123.0,364.5 126.2,361.2 130.0,359.5 132.5,356.2 135.0,348.8 137.5,347.0 140.0,342.5 142.5,333.8 146.2,330.0 152.5,328.8 160.0,328.0 163.8,327.0 167.5,327.5 171.2,332.0 174.5,331.2 178.8,335.5 182.5,337.0 187.5,337.5 191.2,342.5 195.0,345.5 198.8,345.5 202.5,344.5 207.5,345.0 212.5,347.0 218.8,350.0 222.5,348.0 227.5,351.2 231.8,354.5 235.0,353.0 242.5,353.0 246.2,351.2 250.0,349.5 255.0,350.0 260.0,351.2 265.0,352.5 270.0,352.5 275.0,350.5 280.0,347.0 285.0,342.5 290.0,341.2 296.2,340.0 302.5,339.5 304.5,341.2 306.2,351.2 308.8,352.5 313.8,354.5 318.8,356.2 322.0,361.0 323.0,362.5 327.0,365.5 331.2,361.2 335.0,363.8 340.0,361.2 345.0,357.5 350.0,356.2 355.0,353.0 360.0,352.0 365.0,353.8 370.0,353.8 376.2,351.2 382.5,350.0 387.5,352.0 392.5,351.2 396.2,353.8 400.0,358.8 403.8,362.0 407.5,362.5 411.2,366.2 416.2,368.8 422.5,370.0 426.2,368.8 431.2,368.8 435.0,363.8 438.8,365.0 442.5,365.5 447.5,366.2 451.2,363.8 455.0,363.8 460.0,363.0 463.8,359.5 467.5,361.2 471.2,357.0 475.0,358.8 480.0,360.0 483.8,358.8 487.5,353.8 491.2,349.2 495.0,351.2 500.0,357.5 503.8,361.8 507.5,354.5 511.2,360.0 515.0,356.2 520.0,357.0 523.8,352.5 527.5,346.2 531.2,348.0 535.0,346.2 539.2,342.0 542.5,345.0 547.5,348.8 552.5,352.0 557.5,349.5 562.5,349.5 567.5,350.0 572.5,348.0 577.5,347.5 580.0,347.0 583.8,350.5 587.0,352.5" fill="none" stroke="#ff0000" stroke-width="1" />
<polyline points="3.0,343.0 15.0,344.5 25.0,345.5 37.5,347.5 50.0,349.5 62.5,351.2 75.0,351.5 87.5,351.0 100.0,351.2 112.5,352.0 122.5,353.8 132.5,354.5 140.0,352.5 150.0,347.5 160.0,342.5 167.5,340.0 175.0,338.2 182.5,338.0 190.0,338.2 197.5,340.0 205.0,341.2 212.5,342.5 220.0,344.2 227.5,345.8 235.0,347.5 242.5,348.2 250.0,348.8 257.5,349.2 265.0,349.5 272.5,349.5 280.0,349.0 287.5,348.0 295.0,346.5 302.5,345.8 310.0,346.8 317.5,348.0 325.0,350.5 330.0,352.5 340.0,355.5 350.0,355.5 360.0,354.5 370.0,354.2 380.0,353.2 390.0,353.0 400.0,353.8 410.0,356.2 420.0,359.2 430.0,362.0 440.0,363.0 450.0,363.2 460.0,363.0 470.0,361.8 480.0,361.5 490.0,358.8 500.0,358.0 510.0,358.0 520.0,358.0 530.0,355.0 540.0,352.5 550.0,351.8 560.0,350.8 570.0,350.0 580.0,350.0 587.0,351.2" fill="none" stroke="#0000ff" stroke-width="1.2" />
</g>
<text x="7.5" y="325.4" fill="#000" stroke="#000" stroke-width="0.12" font-size="10" text-anchor="start" textLength="31.2" lengthAdjust="spacingAndGlyphs">RSI(14)</text>
<text x="42" y="325.4" fill="#000" stroke="#000" stroke-width="0.12" font-size="10" text-anchor="start" textLength="32.5" lengthAdjust="spacingAndGlyphs">43.6410</text>
<text x="81.25" y="325.4" fill="#000" stroke="#000" stroke-width="0.12" font-size="10" text-anchor="start" textLength="41.2" lengthAdjust="spacingAndGlyphs">-&gt;MA(18)</text>
<text x="127.5" y="325.4" fill="#000" stroke="#000" stroke-width="0.12" font-size="10" text-anchor="start" textLength="30.5" lengthAdjust="spacingAndGlyphs">47.0794</text>
<g clip-path="url(#c2)" shape-rendering="crispEdges">
<line x1="4" y1="387.5" x2="614" y2="387.5" stroke="#c0c0c0" stroke-width="1" stroke-dasharray="3 3"/>
<line x1="4" y1="400.5" x2="614" y2="400.5" stroke="#c0c0c0" stroke-width="1" stroke-dasharray="3 3"/>
<line x1="4" y1="419.5" x2="614" y2="419.5" stroke="#c0c0c0" stroke-width="1" stroke-dasharray="3 3"/>
<line x1="4" y1="438.5" x2="614" y2="438.5" stroke="#c0c0c0" stroke-width="1" stroke-dasharray="3 3"/>
<line x1="4" y1="450.5" x2="614" y2="450.5" stroke="#c0c0c0" stroke-width="1" stroke-dasharray="3 3"/>
<polyline points="2.4,419.0 6.0,423.0 10.0,427.0 15.0,428.4 17.0,417.0 19.4,404.0 22.0,408.0 25.0,413.0 28.0,420.0 30.0,430.0 32.0,439.0 36.0,444.0 40.0,450.4 43.0,450.0 47.0,446.0 52.0,442.0 58.0,441.6 62.0,437.0 64.0,432.0 66.0,418.0 69.0,406.0 72.0,399.0 75.0,397.0 78.0,398.0 81.0,403.0 83.6,408.0 86.0,400.0 89.0,395.0 92.0,397.0 95.0,396.0 98.0,395.0 101.0,399.0 104.0,406.0 107.0,416.0 109.0,430.0 111.6,448.0 115.0,441.0 120.0,443.0 124.0,445.6 128.0,444.0 130.0,440.0 132.0,436.0 134.0,424.0 137.0,408.0 140.0,396.0 143.0,388.0 146.0,387.4 166.0,387.4 169.0,391.0 172.0,400.0 175.0,409.0 177.0,417.0 178.0,428.0 179.0,439.0 182.0,442.0 185.0,445.0 188.0,448.0 196.0,448.0 200.0,450.0 203.0,448.0 207.0,446.0 211.0,444.4 214.0,447.0 218.0,450.4 220.0,449.0 222.0,445.0 225.0,444.4 228.0,445.6 231.0,444.4 235.0,444.0 238.0,439.0 241.0,434.0 244.0,429.0 247.0,422.0 250.0,412.0 253.0,402.0 255.6,395.0 258.0,399.0 260.0,404.0 262.0,413.0 265.0,428.0 268.0,440.0 271.4,450.4 274.0,440.0 276.0,428.0 278.0,415.0 280.0,402.0 282.0,394.0 284.0,387.6 292.0,387.2 303.0,387.6 304.4,396.0 306.0,408.0 308.0,422.0 310.0,434.0 312.4,442.0 316.0,450.0 320.0,450.4 325.0,450.4 328.0,449.0 332.0,447.6 336.0,447.0 340.0,442.0 343.0,436.0 345.0,426.0 346.4,414.0 348.0,401.0 350.0,392.0 352.0,388.0 356.0,387.2 360.0,388.0 364.0,391.6 368.0,399.0 371.6,413.0 375.0,411.6 379.0,409.0 381.0,402.0 383.6,388.0 386.0,395.0 389.0,402.0 392.4,414.0 395.0,426.0 398.0,440.0 401.0,447.0 404.0,450.4 412.0,450.4 422.0,450.4 426.0,449.6 431.0,449.0 433.0,444.0 435.6,435.0 439.0,431.6 443.4,425.6 445.0,435.0 448.0,446.4 451.0,440.0 454.0,434.4 457.0,426.0 459.0,418.0 461.0,406.0 463.6,394.4 465.6,400.0 468.0,406.0 471.6,401.6 473.6,412.0 475.6,421.0 479.0,428.0 481.0,435.0 483.4,442.0 485.6,432.0 487.6,422.0 489.6,408.0 491.6,399.0 493.6,396.0 495.6,394.6 497.0,402.0 499.0,416.0 501.0,428.0 503.0,439.0 507.0,440.0 511.4,442.0 514.0,436.0 515.6,433.6 518.0,435.0 520.0,431.0 522.0,424.0 524.0,416.0 527.0,406.0 530.0,400.0 533.0,395.0 535.6,392.4 539.0,392.4 542.0,394.0 544.0,397.0 546.0,404.0 548.0,416.0 550.0,430.0 552.0,439.0 555.4,444.4 558.0,442.0 561.0,437.0 564.0,430.0 567.0,422.0 570.0,412.0 573.0,403.0 576.0,396.0 578.0,391.6 579.4,389.6 581.0,400.0 583.0,412.0 585.0,424.0 587.4,435.6" fill="none" stroke="#20b2aa" stroke-width="1" />
<polyline points="2.4,414.0 6.0,419.0 10.0,423.0 15.0,426.0 18.0,421.0 21.0,414.0 24.0,412.0 27.0,415.0 30.0,421.0 33.0,430.0 37.0,439.0 41.0,445.0 45.0,447.0 49.0,445.0 53.0,443.6 58.0,442.0 62.0,440.0 65.0,434.0 68.0,422.0 71.0,412.0 74.0,405.0 78.0,401.0 82.0,401.0 85.0,402.0 88.0,401.0 92.0,398.0 96.0,396.4 100.0,397.0 103.0,400.0 106.0,407.0 109.0,418.0 112.0,430.0 116.0,436.0 120.0,440.0 124.0,442.4 128.0,442.0 130.0,441.0 133.0,436.0 136.0,425.0 139.0,415.0 142.0,403.0 145.0,396.0 149.0,391.0 154.0,389.0 160.0,388.0 167.0,388.0 170.0,392.0 173.0,397.0 175.6,402.0 178.0,412.0 180.0,420.0 182.0,428.0 184.0,434.0 187.0,440.0 191.0,444.0 195.0,446.4 199.0,448.0 203.0,448.6 207.0,446.4 211.0,445.6 215.0,447.6 218.0,449.0 222.0,446.4 226.0,445.0 230.0,445.0 235.0,444.0 239.0,441.0 242.0,437.0 245.0,432.0 248.0,425.0 251.0,417.0 254.0,409.0 257.0,403.0 260.0,405.0 262.4,412.0 265.0,420.0 268.0,428.0 271.0,436.0 274.0,437.0 277.0,429.0 279.0,420.0 281.0,412.0 284.0,403.0 288.0,397.0 292.0,392.0 297.0,390.0 302.0,389.0 304.4,394.0 306.4,402.0 308.4,410.0 310.4,418.0 312.4,426.0 315.0,435.0 318.0,442.0 321.0,446.0 325.0,449.0 329.0,449.0 333.0,447.6 337.0,446.0 341.0,444.0 344.0,439.0 346.0,432.0 348.0,422.0 350.0,412.0 352.4,404.0 355.0,399.0 359.0,394.0 363.0,392.0 367.0,393.0 370.0,399.0 373.0,404.0 376.0,408.0 379.6,406.0 382.0,400.0 384.0,397.0 387.0,399.0 390.0,403.0 393.0,408.0 396.0,418.0 399.0,428.0 402.0,437.0 405.0,443.0 409.0,447.0 413.0,448.4 418.0,449.6 423.0,450.0 428.0,449.6 432.0,448.4 435.0,444.0 438.0,438.0 441.0,433.6 443.6,432.0 446.0,437.0 449.0,440.0 452.0,439.0 455.0,435.0 458.0,429.0 460.4,420.0 462.4,413.0 465.0,408.0 468.0,406.0 471.0,405.6 473.0,409.0 476.0,415.0 479.0,421.0 481.6,427.0 484.0,432.0 486.0,429.0 488.4,421.0 491.0,413.0 493.6,407.0 496.0,404.0 498.4,409.0 501.0,417.0 503.6,425.0 506.4,431.0 509.6,435.6 513.0,436.4 516.0,435.6 518.0,436.0 521.0,431.0 524.0,423.0 527.0,416.0 530.0,409.0 533.0,404.0 536.0,400.0 539.0,397.6 542.0,396.4 544.4,398.0 546.4,402.0 548.4,410.0 550.4,419.0 553.0,427.0 556.0,433.0 559.0,436.0 562.0,434.4 565.0,430.0 568.0,424.0 570.4,418.0 573.0,411.0 575.6,405.0 578.0,401.0 580.4,400.4 582.4,403.0 584.4,409.0 586.4,416.0 588.0,421.0" fill="none" stroke="#ff0000" stroke-width="1.2" stroke-dasharray="3 3"/>
</g>
<text x="7.6" y="399" fill="#000" stroke="#000" stroke-width="0.12" font-size="10" text-anchor="start" textLength="49.4" lengthAdjust="spacingAndGlyphs">Stoch(5,3,3)</text>
<text x="60.6" y="399" fill="#000" stroke="#000" stroke-width="0.12" font-size="10" text-anchor="start" textLength="31.8" lengthAdjust="spacingAndGlyphs">22.6115</text>
<text x="96.6" y="399" fill="#000" stroke="#000" stroke-width="0.12" font-size="10" text-anchor="start" textLength="31.4" lengthAdjust="spacingAndGlyphs">46.2923</text>
<g clip-path="url(#c3)" shape-rendering="crispEdges">
<rect x="3" y="502" width="1" height="6" fill="#c0c0c0" />
<rect x="7" y="503" width="1" height="5" fill="#c0c0c0" />
<rect x="11" y="504" width="1" height="4" fill="#c0c0c0" />
<rect x="15" y="504" width="1" height="4" fill="#c0c0c0" />
<rect x="19" y="504" width="1" height="4" fill="#c0c0c0" />
<rect x="23" y="503" width="1" height="5" fill="#c0c0c0" />
<rect x="27" y="504" width="1" height="4" fill="#c0c0c0" />
<rect x="31" y="505" width="1" height="3" fill="#c0c0c0" />
<rect x="35" y="507" width="1" height="1" fill="#c0c0c0" />
<rect x="39" y="508" width="1" height="1" fill="#c0c0c0" />
<rect x="43" y="508" width="1" height="2" fill="#c0c0c0" />
<rect x="47" y="508" width="1" height="2" fill="#c0c0c0" />
<rect x="51" y="508" width="1" height="4" fill="#c0c0c0" />
<rect x="55" y="508" width="1" height="6" fill="#c0c0c0" />
<rect x="59" y="508" width="1" height="7" fill="#c0c0c0" />
<rect x="63" y="508" width="1" height="8" fill="#c0c0c0" />
<rect x="67" y="508" width="1" height="8" fill="#c0c0c0" />
<rect x="71" y="508" width="1" height="8" fill="#c0c0c0" />
<rect x="75" y="508" width="1" height="7" fill="#c0c0c0" />
<rect x="79" y="508" width="1" height="6" fill="#c0c0c0" />
<rect x="83" y="508" width="1" height="6" fill="#c0c0c0" />
<rect x="87" y="508" width="1" height="6" fill="#c0c0c0" />
<rect x="91" y="508" width="1" height="6" fill="#c0c0c0" />
<rect x="95" y="508" width="1" height="5" fill="#c0c0c0" />
<rect x="99" y="508" width="1" height="4" fill="#c0c0c0" />
<rect x="103" y="508" width="1" height="4" fill="#c0c0c0" />
<rect x="107" y="508" width="1" height="4" fill="#c0c0c0" />
<rect x="111" y="508" width="1" height="4" fill="#c0c0c0" />
<rect x="115" y="508" width="1" height="5" fill="#c0c0c0" />
<rect x="119" y="508" width="1" height="6" fill="#c0c0c0" />
<rect x="123" y="508" width="1" height="10" fill="#c0c0c0" />
<rect x="127" y="508" width="1" height="12" fill="#c0c0c0" />
<rect x="131" y="508" width="1" height="14" fill="#c0c0c0" />
<rect x="135" y="508" width="1" height="10" fill="#c0c0c0" />
<rect x="139" y="508" width="1" height="6" fill="#c0c0c0" />
<rect x="143" y="506" width="1" height="2" fill="#c0c0c0" />
<rect x="147" y="496" width="1" height="12" fill="#c0c0c0" />
<rect x="151" y="486" width="1" height="22" fill="#c0c0c0" />
<rect x="155" y="478" width="1" height="30" fill="#c0c0c0" />
<rect x="159" y="471" width="1" height="37" fill="#c0c0c0" />
<rect x="163" y="466" width="1" height="42" fill="#c0c0c0" />
<rect x="167" y="462" width="1" height="46" fill="#c0c0c0" />
<rect x="171" y="460" width="1" height="48" fill="#c0c0c0" />
<rect x="175" y="459" width="1" height="49" fill="#c0c0c0" />
<rect x="179" y="460" width="1" height="48" fill="#c0c0c0" />
<rect x="183" y="462" width="1" height="46" fill="#c0c0c0" />
<rect x="187" y="464" width="1" height="44" fill="#c0c0c0" />
<rect x="191" y="468" width="1" height="40" fill="#c0c0c0" />
<rect x="195" y="473" width="1" height="35" fill="#c0c0c0" />
<rect x="199" y="477" width="1" height="31" fill="#c0c0c0" />
<rect x="203" y="480" width="1" height="28" fill="#c0c0c0" />
<rect x="207" y="483" width="1" height="25" fill="#c0c0c0" />
<rect x="211" y="487" width="1" height="21" fill="#c0c0c0" />
<rect x="215" y="491" width="1" height="17" fill="#c0c0c0" />
<rect x="219" y="494" width="1" height="14" fill="#c0c0c0" />
<rect x="223" y="497" width="1" height="11" fill="#c0c0c0" />
<rect x="227" y="500" width="1" height="8" fill="#c0c0c0" />
<rect x="231" y="503" width="1" height="5" fill="#c0c0c0" />
<rect x="235" y="506" width="1" height="2" fill="#c0c0c0" />
<rect x="239" y="507" width="1" height="1" fill="#c0c0c0" />
<rect x="243" y="508" width="1" height="1" fill="#c0c0c0" />
<rect x="247" y="508" width="1" height="1" fill="#c0c0c0" />
<rect x="251" y="508" width="1" height="1" fill="#c0c0c0" />
<rect x="255" y="508" width="1" height="1" fill="#c0c0c0" />
<rect x="259" y="508" width="1" height="2" fill="#c0c0c0" />
<rect x="263" y="508" width="1" height="2" fill="#c0c0c0" />
<rect x="267" y="508" width="1" height="2" fill="#c0c0c0" />
<rect x="271" y="508" width="1" height="3" fill="#c0c0c0" />
<rect x="275" y="508" width="1" height="2" fill="#c0c0c0" />
<rect x="279" y="508" width="1" height="2" fill="#c0c0c0" />
<rect x="283" y="508" width="1" height="1" fill="#c0c0c0" />
<rect x="287" y="508" width="1" height="1" fill="#c0c0c0" />
<rect x="291" y="507" width="1" height="1" fill="#c0c0c0" />
<rect x="295" y="505" width="1" height="3" fill="#c0c0c0" />
<rect x="299" y="504" width="1" height="4" fill="#c0c0c0" />
<rect x="303" y="502" width="1" height="6" fill="#c0c0c0" />
<rect x="307" y="508" width="1" height="1" fill="#c0c0c0" />
<rect x="311" y="508" width="1" height="1" fill="#c0c0c0" />
<rect x="315" y="508" width="1" height="1" fill="#c0c0c0" />
<rect x="319" y="508" width="1" height="2" fill="#c0c0c0" />
<rect x="323" y="508" width="1" height="6" fill="#c0c0c0" />
<rect x="327" y="508" width="1" height="11" fill="#c0c0c0" />
<rect x="331" y="508" width="1" height="13" fill="#c0c0c0" />
<rect x="335" y="508" width="1" height="16" fill="#c0c0c0" />
<rect x="339" y="508" width="1" height="18" fill="#c0c0c0" />
<rect x="343" y="508" width="1" height="19" fill="#c0c0c0" />
<rect x="347" y="508" width="1" height="18" fill="#c0c0c0" />
<rect x="351" y="508" width="1" height="17" fill="#c0c0c0" />
<rect x="355" y="508" width="1" height="16" fill="#c0c0c0" />
<rect x="359" y="508" width="1" height="14" fill="#c0c0c0" />
<rect x="363" y="508" width="1" height="12" fill="#c0c0c0" />
<rect x="367" y="508" width="1" height="12" fill="#c0c0c0" />
<rect x="371" y="508" width="1" height="11" fill="#c0c0c0" />
<rect x="375" y="508" width="1" height="10" fill="#c0c0c0" />
<rect x="379" y="508" width="1" height="9" fill="#c0c0c0" />
<rect x="383" y="508" width="1" height="8" fill="#c0c0c0" />
<rect x="387" y="508" width="1" height="8" fill="#c0c0c0" />
<rect x="391" y="508" width="1" height="6" fill="#c0c0c0" />
<rect x="395" y="508" width="1" height="6" fill="#c0c0c0" />
<rect x="399" y="508" width="1" height="8" fill="#c0c0c0" />
<rect x="403" y="508" width="1" height="11" fill="#c0c0c0" />
<rect x="407" y="508" width="1" height="12" fill="#c0c0c0" />
<rect x="411" y="508" width="1" height="16" fill="#c0c0c0" />
<rect x="415" y="508" width="1" height="18" fill="#c0c0c0" />
<rect x="419" y="508" width="1" height="22" fill="#c0c0c0" />
<rect x="423" y="508" width="1" height="23" fill="#c0c0c0" />
<rect x="427" y="508" width="1" height="25" fill="#c0c0c0" />
<rect x="431" y="508" width="1" height="26" fill="#c0c0c0" />
<rect x="435" y="508" width="1" height="26" fill="#c0c0c0" />
<rect x="439" y="508" width="1" height="26" fill="#c0c0c0" />
<rect x="443" y="508" width="1" height="26" fill="#c0c0c0" />
<rect x="447" y="508" width="1" height="26" fill="#c0c0c0" />
<rect x="451" y="508" width="1" height="26" fill="#c0c0c0" />
<rect x="455" y="508" width="1" height="26" fill="#c0c0c0" />
<rect x="459" y="508" width="1" height="25" fill="#c0c0c0" />
<rect x="463" y="508" width="1" height="23" fill="#c0c0c0" />
<rect x="467" y="508" width="1" height="22" fill="#c0c0c0" />
<rect x="471" y="508" width="1" height="20" fill="#c0c0c0" />
<rect x="475" y="508" width="1" height="18" fill="#c0c0c0" />
<rect x="479" y="508" width="1" height="17" fill="#c0c0c0" />
<rect x="483" y="508" width="1" height="16" fill="#c0c0c0" />
<rect x="487" y="508" width="1" height="14" fill="#c0c0c0" />
<rect x="491" y="508" width="1" height="12" fill="#c0c0c0" />
<rect x="495" y="508" width="1" height="12" fill="#c0c0c0" />
<rect x="499" y="508" width="1" height="12" fill="#c0c0c0" />
<rect x="503" y="508" width="1" height="13" fill="#c0c0c0" />
<rect x="507" y="508" width="1" height="14" fill="#c0c0c0" />
<rect x="511" y="508" width="1" height="14" fill="#c0c0c0" />
<rect x="515" y="508" width="1" height="14" fill="#c0c0c0" />
<rect x="519" y="508" width="1" height="14" fill="#c0c0c0" />
<rect x="523" y="508" width="1" height="12" fill="#c0c0c0" />
<rect x="527" y="508" width="1" height="11" fill="#c0c0c0" />
<rect x="531" y="508" width="1" height="8" fill="#c0c0c0" />
<rect x="535" y="508" width="1" height="4" fill="#c0c0c0" />
<rect x="539" y="508" width="1" height="2" fill="#c0c0c0" />
<rect x="543" y="508" width="1" height="1" fill="#c0c0c0" />
<rect x="547" y="508" width="1" height="1" fill="#c0c0c0" />
<rect x="551" y="508" width="1" height="1" fill="#c0c0c0" />
<rect x="555" y="508" width="1" height="1" fill="#c0c0c0" />
<rect x="559" y="508" width="1" height="1" fill="#c0c0c0" />
<rect x="563" y="508" width="1" height="1" fill="#c0c0c0" />
<rect x="567" y="508" width="1" height="1" fill="#c0c0c0" />
<rect x="571" y="508" width="1" height="1" fill="#c0c0c0" />
<rect x="575" y="508" width="1" height="1" fill="#c0c0c0" />
<rect x="579" y="508" width="1" height="1" fill="#c0c0c0" />
<rect x="583" y="508" width="1" height="1" fill="#c0c0c0" />
<rect x="587" y="508" width="1" height="1" fill="#c0c0c0" />
<polyline points="3.0,497.0 12.5,500.0 25.0,502.5 37.5,503.8 50.0,507.5 62.5,511.2 75.0,514.5 87.5,516.2 100.0,515.0 112.5,513.8 120.0,513.8 125.0,515.5 132.5,517.0 138.8,517.5 145.0,515.5 150.0,512.5 155.0,507.5 160.0,500.0 165.0,490.0 170.0,480.0 175.0,472.5 180.0,467.5 185.0,464.5 190.0,463.2 196.2,463.2 201.2,465.0 207.5,469.5 213.8,475.0 220.0,481.2 227.5,487.5 235.0,493.0 242.5,498.8 250.0,503.0 257.5,506.2 265.0,508.8 275.0,510.5 285.0,510.5 292.5,510.0 300.0,508.0 307.5,505.8 312.5,505.2 320.0,505.2 325.0,506.2 330.0,508.8 335.0,512.5 340.0,516.2 347.5,520.0 355.0,523.2 360.0,524.2 372.5,524.2 380.0,522.0 387.5,520.0 397.5,517.5 405.0,517.0 412.5,517.0 420.0,520.5 427.5,523.8 435.0,527.5 442.5,530.8 447.5,533.0 455.0,534.5 463.8,534.5 472.5,532.0 480.0,530.2 487.5,528.0 495.0,526.2 500.0,524.2 510.0,522.5 520.0,522.0 532.5,520.8 540.0,518.8 547.5,516.2 555.0,513.8 562.5,510.8 570.0,510.0 587.0,510.0" fill="none" stroke="#ff0000" stroke-width="1" />
</g>
<text x="7.5" y="465.8" fill="#000" stroke="#000" stroke-width="0.12" font-size="10" text-anchor="start" textLength="65.8" lengthAdjust="spacingAndGlyphs">MACD(12,26,9)</text>
<text x="76.25" y="465.8" fill="#000" stroke="#000" stroke-width="0.12" font-size="10" text-anchor="start" textLength="40.0" lengthAdjust="spacingAndGlyphs">-0.000173</text>
<text x="120.5" y="465.8" fill="#000" stroke="#000" stroke-width="0.12" font-size="10" text-anchor="start" textLength="39.5" lengthAdjust="spacingAndGlyphs">-0.000133</text>
<g shape-rendering="crispEdges">
<rect x="2" y="2" width="613" height="1" fill="#000" />
<rect x="2" y="2" width="1" height="309" fill="#000" />
<rect x="2" y="310" width="613" height="1" fill="#000" />
<rect x="2" y="312" width="613" height="1" fill="#000" />
<rect x="2" y="312" width="1" height="73" fill="#000" />
<rect x="2" y="384" width="613" height="1" fill="#000" />
<rect x="2" y="386" width="613" height="1" fill="#000" />
<rect x="2" y="386" width="1" height="66" fill="#000" />
<rect x="2" y="451" width="613" height="1" fill="#000" />
<rect x="2" y="453" width="613" height="1" fill="#000" />
<rect x="2" y="453" width="1" height="87" fill="#000" />
<rect x="2" y="539" width="613" height="1" fill="#000" />
<rect x="615" y="314" width="1" height="1" fill="#000" />
<rect x="615" y="383" width="1" height="1" fill="#000" />
<rect x="615" y="388" width="1" height="1" fill="#000" />
<rect x="615" y="449" width="1" height="1" fill="#000" />
<rect x="615" y="455" width="1" height="1" fill="#000" />
<rect x="615" y="538" width="1" height="1" fill="#000" />
<rect x="614" y="2" width="1" height="309" fill="#000" />
<rect x="614" y="312" width="1" height="228" fill="#000" />
<rect x="615" y="10" width="2" height="1" fill="#000" />
<rect x="615" y="43" width="2" height="1" fill="#000" />
<rect x="615" y="76" width="2" height="1" fill="#000" />
<rect x="615" y="109" width="2" height="1" fill="#000" />
<rect x="615" y="142" width="2" height="1" fill="#000" />
<rect x="615" y="175" width="2" height="1" fill="#000" />
<rect x="615" y="208" width="2" height="1" fill="#000" />
<rect x="615" y="241" width="2" height="1" fill="#000" />
<rect x="615" y="274" width="2" height="1" fill="#000" />
<rect x="615" y="307" width="2" height="1" fill="#000" />
</g>
<text x="620.4" y="14.0" fill="#000" stroke="#000" stroke-width="0.12" font-size="10" text-anchor="start" textLength="31.8" lengthAdjust="spacingAndGlyphs">1.32060</text>
<text x="620.4" y="47.0" fill="#000" stroke="#000" stroke-width="0.12" font-size="10" text-anchor="start" textLength="31.8" lengthAdjust="spacingAndGlyphs">1.31710</text>
<text x="620.4" y="80.0" fill="#000" stroke="#000" stroke-width="0.12" font-size="10" text-anchor="start" textLength="31.8" lengthAdjust="spacingAndGlyphs">1.31350</text>
<text x="620.4" y="113.0" fill="#000" stroke="#000" stroke-width="0.12" font-size="10" text-anchor="start" textLength="31.8" lengthAdjust="spacingAndGlyphs">1.31000</text>
<text x="620.4" y="146.0" fill="#000" stroke="#000" stroke-width="0.12" font-size="10" text-anchor="start" textLength="31.8" lengthAdjust="spacingAndGlyphs">1.30650</text>
<text x="620.4" y="179.0" fill="#000" stroke="#000" stroke-width="0.12" font-size="10" text-anchor="start" textLength="31.8" lengthAdjust="spacingAndGlyphs">1.30300</text>
<text x="620.4" y="212.0" fill="#000" stroke="#000" stroke-width="0.12" font-size="10" text-anchor="start" textLength="31.8" lengthAdjust="spacingAndGlyphs">1.29940</text>
<text x="620.4" y="245.0" fill="#000" stroke="#000" stroke-width="0.12" font-size="10" text-anchor="start" textLength="31.8" lengthAdjust="spacingAndGlyphs">1.29590</text>
<text x="620.4" y="278.0" fill="#000" stroke="#000" stroke-width="0.12" font-size="10" text-anchor="start" textLength="31.8" lengthAdjust="spacingAndGlyphs">1.29240</text>
<text x="620.4" y="311.0" fill="#000" stroke="#000" stroke-width="0.12" font-size="10" text-anchor="start" textLength="31.8" lengthAdjust="spacingAndGlyphs">1.28890</text>
<rect x="616" y="124" width="41" height="11" fill="#ff0000" shape-rendering="crispEdges"/>
<text x="620.4" y="133.0" fill="#fff" stroke="#fff" stroke-width="0.12" font-size="10" text-anchor="start" textLength="31.8" lengthAdjust="spacingAndGlyphs">1.30776</text>
<rect x="616" y="158" width="41" height="11" fill="#ff0000" shape-rendering="crispEdges"/>
<text x="620.4" y="167.0" fill="#fff" stroke="#fff" stroke-width="0.12" font-size="10" text-anchor="start" textLength="31.8" lengthAdjust="spacingAndGlyphs">1.30418</text>
<rect x="616" y="180" width="41" height="11" fill="#ff0000" shape-rendering="crispEdges"/>
<text x="620.4" y="189.0" fill="#fff" stroke="#fff" stroke-width="0.12" font-size="10" text-anchor="start" textLength="31.8" lengthAdjust="spacingAndGlyphs">1.30183</text>
<rect x="616" y="197" width="41" height="11" fill="#000000" shape-rendering="crispEdges"/>
<text x="620.4" y="206.0" fill="#fff" stroke="#fff" stroke-width="0.12" font-size="10" text-anchor="start" textLength="31.8" lengthAdjust="spacingAndGlyphs">1.30010</text>
<rect x="616" y="221" width="41" height="11" fill="#008000" shape-rendering="crispEdges"/>
<text x="620.4" y="230.0" fill="#fff" stroke="#fff" stroke-width="0.12" font-size="10" text-anchor="start" textLength="31.8" lengthAdjust="spacingAndGlyphs">1.29737</text>
<rect x="616" y="243" width="41" height="11" fill="#008000" shape-rendering="crispEdges"/>
<text x="620.4" y="252.0" fill="#fff" stroke="#fff" stroke-width="0.12" font-size="10" text-anchor="start" textLength="31.8" lengthAdjust="spacingAndGlyphs">1.29505</text>
<clipPath id="cl2"><rect x="615" y="387" width="45" height="64.5"/></clipPath>
<text x="618.5" y="322.9" fill="#000" stroke="#000" stroke-width="0.12" font-size="10" text-anchor="start" textLength="14.4" lengthAdjust="spacingAndGlyphs">100</text>
<text x="618.5" y="337.9" fill="#000" stroke="#000" stroke-width="0.12" font-size="10" text-anchor="start" textLength="8.4" lengthAdjust="spacingAndGlyphs">70</text>
<text x="618.5" y="365.9" fill="#000" stroke="#000" stroke-width="0.12" font-size="10" text-anchor="start" textLength="8.4" lengthAdjust="spacingAndGlyphs">30</text>
<text x="618.5" y="381.1" fill="#000" stroke="#000" stroke-width="0.12" font-size="10" text-anchor="start" textLength="4.4" lengthAdjust="spacingAndGlyphs">0</text>
<g clip-path="url(#cl2)">
<text x="618.5" y="392.0" fill="#000" stroke="#000" stroke-width="0.12" font-size="10" text-anchor="start" textLength="14.4" lengthAdjust="spacingAndGlyphs">100</text>
</g>
<g clip-path="url(#cl2)">
<text x="618.5" y="396.5" fill="#000" stroke="#000" stroke-width="0.12" font-size="10" text-anchor="start" textLength="14.4" lengthAdjust="spacingAndGlyphs">100</text>
</g>
<g clip-path="url(#cl2)">
<text x="618.5" y="403.9" fill="#000" stroke="#000" stroke-width="0.12" font-size="10" text-anchor="start" textLength="8.4" lengthAdjust="spacingAndGlyphs">80</text>
</g>
<g clip-path="url(#cl2)">
<text x="618.5" y="422.9" fill="#000" stroke="#000" stroke-width="0.12" font-size="10" text-anchor="start" textLength="8.4" lengthAdjust="spacingAndGlyphs">50</text>
</g>
<g clip-path="url(#cl2)">
<text x="618.5" y="441.9" fill="#000" stroke="#000" stroke-width="0.12" font-size="10" text-anchor="start" textLength="8.4" lengthAdjust="spacingAndGlyphs">20</text>
</g>
<g clip-path="url(#cl2)">
<text x="618.5" y="448.5" fill="#000" stroke="#000" stroke-width="0.12" font-size="10" text-anchor="start" textLength="4.4" lengthAdjust="spacingAndGlyphs">0</text>
</g>
<g clip-path="url(#cl2)">
<text x="618.5" y="454.5" fill="#000" stroke="#000" stroke-width="0.12" font-size="10" text-anchor="start" textLength="4.4" lengthAdjust="spacingAndGlyphs">0</text>
</g>
<text x="618.5" y="464.0" fill="#000" stroke="#000" stroke-width="0.12" font-size="10" text-anchor="start" textLength="37.5" lengthAdjust="spacingAndGlyphs">0.003923</text>
<text x="618.5" y="512.2" fill="#000" stroke="#000" stroke-width="0.12" font-size="10" text-anchor="start" textLength="16.7" lengthAdjust="spacingAndGlyphs">0.00</text>
<text x="618.5" y="535.8" fill="#000" stroke="#000" stroke-width="0.12" font-size="10" text-anchor="start" textLength="40" lengthAdjust="spacingAndGlyphs">-0.002232</text>
<g shape-rendering="crispEdges">
<rect x="615" y="508" width="2" height="1" fill="#000" />
<rect x="3" y="539" width="1" height="4" fill="#000" />
<rect x="67" y="539" width="1" height="4" fill="#000" />
<rect x="131" y="539" width="1" height="4" fill="#000" />
<rect x="195" y="539" width="1" height="4" fill="#000" />
<rect x="259" y="539" width="1" height="4" fill="#000" />
<rect x="323" y="539" width="1" height="4" fill="#000" />
<rect x="387" y="539" width="1" height="4" fill="#000" />
<rect x="451" y="539" width="1" height="4" fill="#000" />
<rect x="515" y="539" width="1" height="4" fill="#000" />
<rect x="579" y="539" width="1" height="4" fill="#000" />
</g>
<text x="2.7" y="551.4" fill="#000" stroke="#000" stroke-width="0.12" font-size="10" text-anchor="start" textLength="49.6" lengthAdjust="spacingAndGlyphs">2 May 2019</text>
<text x="66.7" y="551.4" fill="#000" stroke="#000" stroke-width="0.12" font-size="10" text-anchor="start" textLength="52.6" lengthAdjust="spacingAndGlyphs">2 May 22:00</text>
<text x="130.7" y="551.4" fill="#000" stroke="#000" stroke-width="0.12" font-size="10" text-anchor="start" textLength="52" lengthAdjust="spacingAndGlyphs">3 May 14:00</text>
<text x="194.7" y="551.4" fill="#000" stroke="#000" stroke-width="0.12" font-size="10" text-anchor="start" textLength="52.6" lengthAdjust="spacingAndGlyphs">6 May 06:00</text>
<text x="258.7" y="551.4" fill="#000" stroke="#000" stroke-width="0.12" font-size="10" text-anchor="start" textLength="52.6" lengthAdjust="spacingAndGlyphs">6 May 22:00</text>
<text x="322.7" y="551.4" fill="#000" stroke="#000" stroke-width="0.12" font-size="10" text-anchor="start" textLength="52" lengthAdjust="spacingAndGlyphs">7 May 14:00</text>
<text x="386.7" y="551.4" fill="#000" stroke="#000" stroke-width="0.12" font-size="10" text-anchor="start" textLength="52.6" lengthAdjust="spacingAndGlyphs">8 May 06:00</text>
<text x="450.7" y="551.4" fill="#000" stroke="#000" stroke-width="0.12" font-size="10" text-anchor="start" textLength="52.6" lengthAdjust="spacingAndGlyphs">8 May 22:00</text>
<text x="514.7" y="551.4" fill="#000" stroke="#000" stroke-width="0.12" font-size="10" text-anchor="start" textLength="52" lengthAdjust="spacingAndGlyphs">9 May 14:00</text>
<text x="578.7" y="551.4" fill="#000" stroke="#000" stroke-width="0.12" font-size="10" text-anchor="start" textLength="57.7" lengthAdjust="spacingAndGlyphs">10 May 06:00</text>
</svg></body></html>
